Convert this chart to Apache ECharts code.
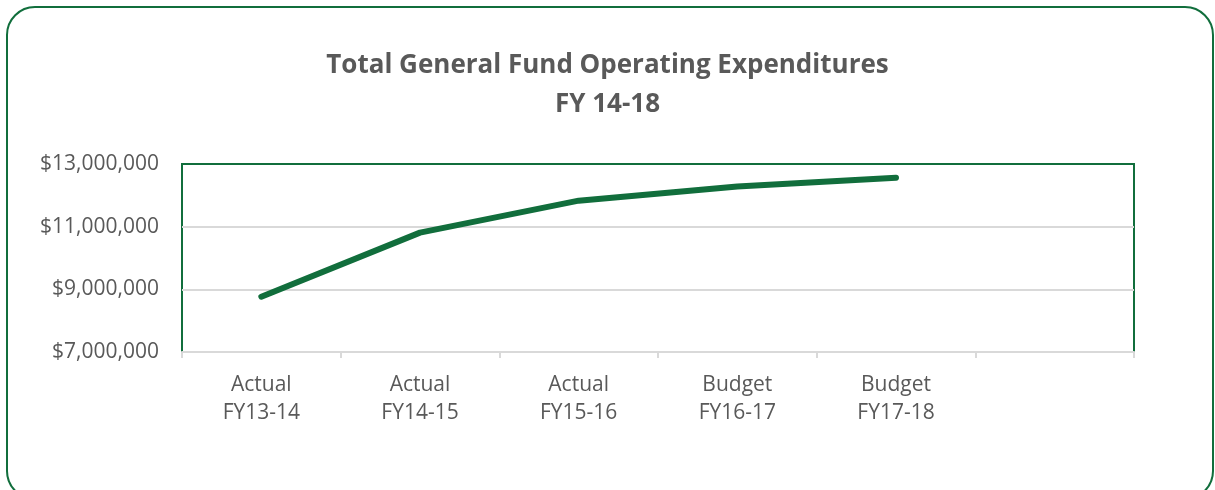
<!DOCTYPE html>
<html>
<head>
<meta charset="utf-8">
<script src="https://cdn.jsdelivr.net/npm/echarts@6/dist/echarts.min.js"></script>
<style>
html,body{margin:0;padding:0;background:#fff;}
#chart{width:1215px;height:490px;}
</style>
</head>
<body>
<div id="chart"></div>
<script>
var titleText = 'Total General Fund Operating Expenditures\nFY 14-18';
var categories = ['Actual\nFY13-14', 'Actual\nFY14-15', 'Actual\nFY15-16', 'Budget\nFY16-17', 'Budget\nFY17-18', ''];
var expenditures = [8765000, 10810000, 11830000, 12280000, 12560000, null];
var yMin = 7000000, yMax = 13000000, yStep = 2000000;

var green = '#116e3c';
var chart = echarts.init(document.getElementById('chart'), null, {renderer: 'canvas'});
chart.setOption({
  backgroundColor: '#ffffff',
  animation: false,
  title: {
    text: titleText,
    left: 'center',
    top: 41,
    textStyle: {
      fontFamily: 'Open Sans',
      fontWeight: 'bold',
      fontSize: 26,
      lineHeight: 39,
      color: '#595959'
    }
  },
  graphic: [{
    type: 'rect',
    shape: {x: 7, y: 7, width: 1206, height: 492, r: 28},
    style: {fill: 'none', stroke: green, lineWidth: 2},
    z: 0,
    silent: true
  }],
  grid: {
    left: 182, right: 81, top: 164, bottom: 138,
    show: true,
    borderColor: green,
    borderWidth: 2,
    backgroundColor: 'transparent'
  },
  xAxis: {
    type: 'category',
    data: categories,
    boundaryGap: true,
    axisLine: {show: true, lineStyle: {color: '#d9d9d9', width: 2}},
    axisTick: {show: true, length: 6, lineStyle: {color: '#d9d9d9', width: 2}},
    axisLabel: {
      interval: 0,
      margin: 19,
      fontFamily: 'Open Sans',
      fontSize: 21,
      lineHeight: 28,
      color: '#595959'
    },
    splitLine: {show: false},
    z: 5
  },
  yAxis: {
    type: 'value',
    min: yMin, max: yMax, interval: yStep,
    axisLine: {show: false},
    axisTick: {show: false},
    splitLine: {show: true, showMinLine: false, showMaxLine: false, lineStyle: {color: '#d9d9d9', width: 2}},
    axisLabel: {
      margin: 23,
      fontFamily: 'Open Sans',
      fontSize: 21,
      color: '#595959',
      formatter: function (v) { return '$' + v.toLocaleString('en-US'); }
    }
  },
  series: [{
    type: 'line',
    data: expenditures,
    showSymbol: false,
    symbol: 'none',
    lineStyle: {color: green, width: 6, cap: 'round', join: 'round'},
    itemStyle: {color: green},
    z: 10
  }]
});
</script>
</body>
</html>
